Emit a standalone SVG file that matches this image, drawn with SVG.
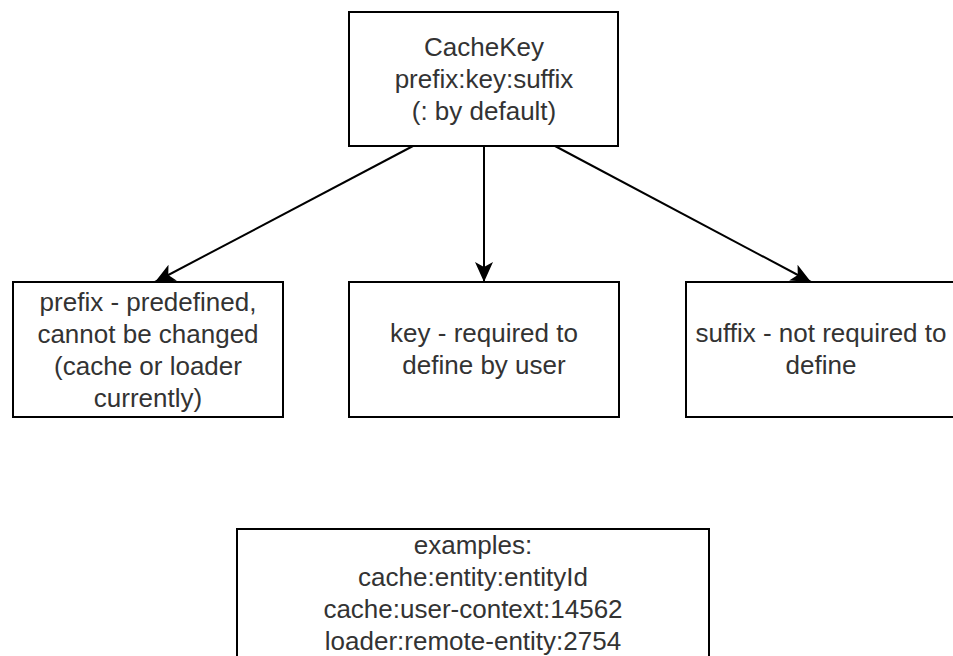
<svg xmlns="http://www.w3.org/2000/svg" width="953" height="656" viewBox="0 0 953 656">
  <style>
    .box { fill: #ffffff; stroke: #000000; stroke-width: 2; }
    .lbl { font-family: "Liberation Sans", Arial, Helvetica, sans-serif; font-size: 26px; fill: #333333; text-anchor: middle; dominant-baseline: central; }
    .edge { fill: none; stroke: #000000; stroke-width: 2; marker-end: url(#arrow); }
  </style>
  <defs>
    <marker id="arrow" markerUnits="userSpaceOnUse" viewBox="0 0 20 20" refX="20" refY="10" markerWidth="20" markerHeight="20" orient="auto">
      <path d="M0,1 L20,10 L0,19 L5,10 z" fill="#000000"/>
    </marker>
  </defs>
  <rect width="953" height="656" fill="#ffffff"/>

  <g id="connectors">
    <line class="edge" x1="413" y1="146" x2="155" y2="282"/>
    <line class="edge" x1="484" y1="146" x2="484" y2="282"/>
    <line class="edge" x1="555" y1="146" x2="811" y2="282"/>
  </g>

  <g id="cachekey">
    <rect class="box" x="349" y="12" width="269" height="134"/>
    <text class="lbl" x="484" y="47">CacheKey</text>
    <text class="lbl" x="484" y="79">prefix:key:suffix</text>
    <text class="lbl" x="484" y="111">(: by default)</text>
  </g>

  <g id="prefix">
    <rect class="box" x="13" y="282" width="270" height="135"/>
    <text class="lbl" x="148" y="302">prefix - predefined,</text>
    <text class="lbl" x="148" y="334">cannot be changed</text>
    <text class="lbl" x="148" y="366">(cache or loader</text>
    <text class="lbl" x="148" y="398">currently)</text>
  </g>

  <g id="key">
    <rect class="box" x="349" y="282" width="270" height="135"/>
    <text class="lbl" x="484" y="333">key - required to</text>
    <text class="lbl" x="484" y="365">define by user</text>
  </g>

  <g id="suffix">
    <rect class="box" x="686" y="282" width="270" height="135"/>
    <text class="lbl" x="821" y="333">suffix - not required to</text>
    <text class="lbl" x="821" y="365">define</text>
  </g>

  <g id="examples">
    <rect class="box" x="237" y="529" width="472" height="130"/>
    <text class="lbl" x="473" y="545">examples:</text>
    <text class="lbl" x="473" y="577">cache:entity:entityId</text>
    <text class="lbl" x="473" y="609">cache:user-context:14562</text>
    <text class="lbl" x="473" y="641">loader:remote-entity:2754</text>
  </g>
</svg>
